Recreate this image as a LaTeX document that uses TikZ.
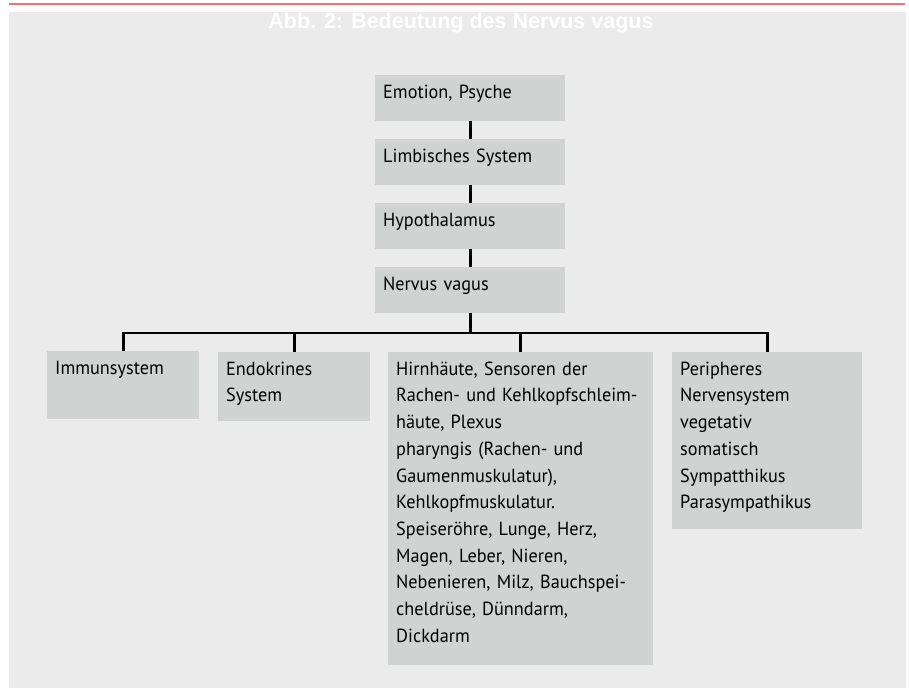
\documentclass[tikz,border=0pt]{standalone}
\usepackage{fontspec}
\setmainfont{PT Sans}[FakeStretch=0.96]
\newfontfamily\headfont{Liberation Sans}
\usepackage{tikz}
\usetikzlibrary{calc,positioning}

\definecolor{bggray}{HTML}{EBEBEB}
\definecolor{boxgray}{HTML}{D1D3D3}
\definecolor{rule}{HTML}{E8757B}

\tikzset{
  box/.style={fill=boxgray, anchor=north west, inner xsep=8pt, inner ysep=8pt,
    text height=15pt, align=left, font=\fontsize{19pt}{26.7pt}\selectfont},
  link/.style={line width=2.8pt, black}
}

\begin{document}
\begin{tikzpicture}[x=1pt,y=-1pt]
\useasboundingbox (0,0) rectangle (909,689);

% Background and heading
\draw[line width=2pt,rule] (9,4) -- (905,4);
\fill[bggray] (9,12) rectangle (906,688);
\node[anchor=base,white,font=\headfont\bfseries\fontsize{21.5pt}{24pt}\selectfont] (title) at (461,28.3) {Abb. 2: Bedeutung des Nervus vagus};

% Chain
\node[box,text width=174pt,text depth=14.5pt] (emotion) at (375,75) {Emotion, Psyche};
\node[box,text width=174pt,text depth=14.5pt] (limbic) at (375,139) {Limbisches System};
\node[box,text width=174pt,text depth=14.5pt] (hypo) at (375,203) {Hypothalamus};
\node[box,text width=174pt,text depth=14.5pt] (vagus) at (375,267) {Nervus vagus};

% Targets
\node[box,text width=136pt,text depth=37pt] (immun) at (47,351) {Immunsystem};
\node[box,text width=136pt,text depth=38pt] (endo) at (218,352) {Endokrines\\System};
\node[box,text width=249pt,text depth=282pt] (organe) at (388,352) {Hirnhäute, Sensoren der\\Rachen- und Kehlkopfschleim-\\häute, Plexus\\pharyngis (Rachen- und\\Gaumenmuskulatur),\\Kehlkopfmuskulatur.\\Speiseröhre, Lunge, Herz,\\Magen, Leber, Nieren,\\Nebenieren, Milz, Bauchspei-\\cheldrüse, Dünndarm,\\Dickdarm};
\node[box,text width=174pt,text depth=146pt] (peri) at (672,352) {Peripheres\\Nervensystem\\vegetativ\\somatisch\\Sympatthikus\\Parasympathikus};

% Connectors
\draw[link] (emotion.south) -- (limbic.north);
\draw[link] (limbic.south) -- (hypo.north);
\draw[link] (hypo.south) -- (vagus.north);
\draw[link] (vagus.south) -- ++(0,20) coordinate (bus);
\draw[link] (immun.north) |- (bus) -| (peri.north);
\draw[link] (endo.north) -- (endo.north |- bus);
\draw[link] (organe.north) -- (organe.north |- bus);
\end{tikzpicture}
\end{document}
